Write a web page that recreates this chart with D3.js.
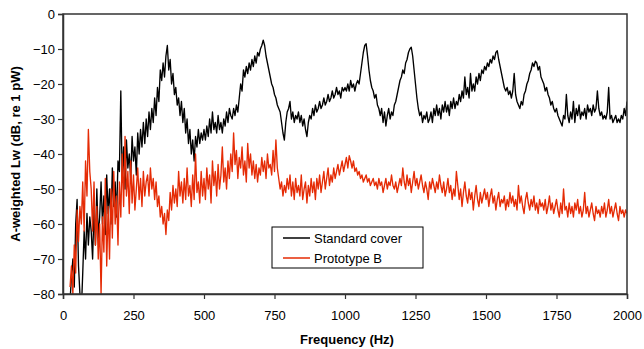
<!DOCTYPE html>
<html><head><meta charset="utf-8">
<script src="https://cdn.jsdelivr.net/npm/d3@7"></script>
<style>
body{margin:0;background:#fff;}
svg text{font-family:"Liberation Sans",Arial,sans-serif;fill:#000;}
</style></head>
<body><svg id="chart" width="644" height="349"></svg>
<script>
// Sampling grid (Hz) and series values (dB)
const freqHz = d3.range(0, 2001, 5);
const standardCover = [
null,null,null,null,null,-82,-75,-70,-78,-60,-53,-72,-80,-85,-74,-62,-70,-57,-66,-58,
-62,-70,-56,-66,-50,-64,-58,-48,-60,-52,-63,-46,-57,-50,-60,-44,-55,-48,-58,-42,
-45,-22,-48,-38,-50,-36,-44,-40,-47,-35,-42,-38,-46,-34,-40,-33,-38,-31,-37,-30,
-35,-28,-33,-27,-31,-24,-29,-21,-25,-16,-19,-14,-18,-12,-9,-16,-13,-20,-17,-23,
-21,-26,-24,-29,-25,-31,-27,-34,-30,-37,-33,-40,-36,-42,-35,-38,-33,-37,-34,-36,
-33,-36,-32,-35,-30,-34,-28,-33,-31,-34,-29,-33,-31,-34,-30,-32,-28,-31,-27,-29,
-30,-27,-29,-26,-28,-24,-20,-22,-16,-18,-15,-17,-14,-16,-13,-15,-12,-14,-11,-12,
-10,-9,-7.5,-9,-12,-14,-16,-18,-20,-21,-23,-24,-26,-27,-28,-31,-34,-36,-31,-28,
-27,-25,-30,-28,-31,-29,-30,-28,-31,-29,-32,-30,-33,-35,-31,-29,-30,-27,-29,-26,
-28,-27,-25,-27,-26,-24,-26,-25,-23,-25,-24,-22,-24,-23,-21,-23,-22,-24,-21,-22,
-21,-22,-20,-22,-19,-21,-20,-22,-20,-19,-20,-17,-14,-11,-9,-8.5,-12,-16,-19,-21,
-22,-24,-23,-26,-27,-29,-27,-31,-28,-32,-29,-27,-30,-28,-29,-26,-25,-23,-21,-19,
-18,-16,-17,-14,-13,-11,-10,-9.5,-12,-16,-20,-24,-27,-29,-28,-31,-29,-30,-28,-31,
-30,-28,-31,-27,-29,-26,-29,-27,-30,-26,-28,-25,-28,-26,-29,-25,-27,-24,-27,-25,
-26,-23,-25,-22,-24,-18,-23,-21,-24,-17,-22,-20,-22,-18,-20,-17,-19,-16,-17,-15,
-16,-14,-15,-13,-14,-12,-13,-11,-10.5,-13,-15,-17,-19,-21,-22,-21,-23,-22,-24,-22,
-17,-23,-25,-26,-27,-25,-26,-23,-22,-20,-19,-17,-16,-14,-15,-13.5,-14,-16,-15,-18,
-19,-20,-22,-21,-23,-24,-26,-25,-27,-28,-27,-29,-30,-31,-32,-29,-30,-23,-29,-31,
-28,-30,-25,-31,-27,-29,-26,-30,-28,-29,-27,-30,-26,-28,-27,-29,-26,-28,-27,-22,
-27,-29,-28,-30,-29,-30,-28,-21,-30,-29,-31,-30,-29,-31,-30,-31,-29,-30,-27,-29,
-25];
const prototypeB = [
null,null,null,null,null,-78,-72,-80,-66,-74,-56,-65,-55,-60,-48,-62,-42,-52,-33,-45,
-50,-62,-48,-66,-55,-70,-60,-80,-58,-68,-47,-72,-55,-70,-50,-64,-45,-60,-52,-66,
-48,-58,-40,-55,-35,-52,-45,-57,-42,-54,-46,-56,-50,-44,-53,-47,-55,-45,-52,-48,
-46,-52,-44,-50,-47,-53,-48,-55,-52,-58,-55,-60,-57,-63,-56,-59,-51,-56,-49,-54,
-50,-55,-45,-52,-48,-54,-47,-53,-44,-52,-49,-55,-46,-53,-40,-51,-48,-54,-45,-52,
-47,-53,-44,-50,-46,-54,-42,-49,-45,-52,-43,-50,-46,-38,-48,-44,-50,-42,-47,-40,
-45,-34,-43,-39,-47,-41,-44,-38,-46,-42,-48,-37,-44,-40,-46,-42,-47,-43,-48,-44,
-46,-41,-45,-42,-47,-40,-44,-43,-46,-39,-45,-36,-44,-47,-50,-48,-52,-49,-51,-47,
-50,-46,-52,-48,-53,-47,-51,-49,-52,-46,-53,-50,-48,-54,-49,-52,-47,-51,-48,-53,
-47,-50,-46,-51,-48,-45,-50,-47,-44,-49,-46,-48,-44,-47,-45,-43,-46,-44,-42,-45,
-43,-41,-44,-40.5,-42,-44,-42,-45,-44,-46,-45,-47,-46,-48,-47,-46,-48,-47,-49,-48,
-47,-49,-48,-50,-47,-49,-48,-51,-49,-47,-50,-48,-49,-46,-49,-50,-48,-51,-49,-47,
-49,-44,-48,-50,-46,-49,-47,-51,-48,-45,-49,-47,-50,-48,-46,-49,-51,-48,-50,-53,
-48,-50,-47,-49,-51,-48,-50,-46,-49,-51,-48,-52,-50,-47,-51,-49,-53,-50,-52,-45,
-49,-53,-50,-55,-51,-48,-52,-54,-50,-53,-51,-56,-52,-49,-53,-55,-51,-54,-52,-50,
-53,-51,-55,-52,-50,-54,-52,-56,-53,-51,-55,-53,-54,-52,-56,-53,-55,-51,-54,-52,
-55,-53,-56,-49,-54,-52,-55,-57,-53,-51,-54,-56,-53,-55,-52,-56,-54,-57,-53,-55,
-54,-56,-53,-57,-55,-52,-56,-54,-57,-55,-53,-56,-58,-54,-57,-50,-56,-55,-58,-54,
-57,-55,-58,-54,-56,-53,-57,-55,-58,-56,-51,-57,-55,-58,-56,-54,-57,-59,-55,-57,
-56,-58,-55,-57,-54,-58,-56,-53,-57,-55,-58,-56,-54,-57,-59,-55,-57,-56,-58,-56,
-57];
const xTicks = [0,250,500,750,1000,1250,1500,1750,2000];
const yTicks = [0,-10,-20,-30,-40,-50,-60,-70,-80];
const seriesNames = ["Standard cover","Prototype B"];
const seriesColors = ["#000000","#e52b05"];

const svg = d3.select("#chart");
const m = {left:63, right:17, top:14, bottom:55};
const W = 644, H = 349;
const x = d3.scaleLinear().domain([0,2000]).range([m.left, W-m.right]);
const y = d3.scaleLinear().domain([-80,0]).range([H-m.bottom, m.top]);

svg.append("defs").append("clipPath").attr("id","clip")
  .append("rect").attr("x",m.left).attr("y",m.top)
  .attr("width",W-m.left-m.right).attr("height",H-m.top-m.bottom);

const line = d3.line()
  .defined(d => d[1] !== null)
  .x(d => x(d[0])).y(d => y(d[1]));

[standardCover, prototypeB].forEach((vals,i) => {
  svg.append("path")
    .datum(freqHz.map((f,k)=>[f, vals[k]]))
    .attr("clip-path","url(#clip)")
    .attr("fill","none")
    .attr("stroke",seriesColors[i])
    .attr("stroke-width",1.35)
    .attr("stroke-linejoin","round")
    .attr("d",line);
});

// frame
svg.append("rect").attr("x",m.left).attr("y",m.top)
  .attr("width",W-m.left-m.right).attr("height",H-m.top-m.bottom)
  .attr("fill","none").attr("stroke","#333").attr("stroke-width",1.5);

const xAxis = svg.append("g").attr("transform",`translate(0,${H-m.bottom})`)
  .call(d3.axisBottom(x).tickValues(xTicks).tickSize(5).tickPadding(12).tickFormat(d3.format("d")));
const yAxis = svg.append("g").attr("transform",`translate(${m.left},0)`)
  .call(d3.axisLeft(y).tickValues(yTicks).tickSize(5).tickPadding(3).tickFormat(d3.format("d")));
[xAxis,yAxis].forEach(g=>{
  g.selectAll("path").attr("stroke","#333").attr("stroke-width",1.5);
  g.selectAll("line").attr("stroke","#333").attr("stroke-width",1.2);
  g.selectAll("text").attr("font-size",13).attr("fill","#000")
    .style("font-family","'Liberation Sans', Arial, sans-serif");
});

svg.append("text").attr("x",(m.left+W-m.right)/2+2).attr("y",344)
  .attr("text-anchor","middle").attr("font-size",13).attr("font-weight","bold")
  .text("Frequency (Hz)");
svg.append("text").attr("transform",`translate(20,${(m.top+H-m.bottom)/2}) rotate(-90)`)
  .attr("text-anchor","middle").attr("font-size",13).attr("font-weight","bold")
  .text("A-weighted Lw (dB, re 1 pW)");

// legend
const lg = svg.append("g");
lg.append("rect").attr("x",272).attr("y",227).attr("width",151).attr("height",41)
  .attr("fill","#fff").attr("stroke","#000").attr("stroke-width",1);
seriesNames.forEach((n,i)=>{
  const yy = 238 + i*20;
  lg.append("line").attr("x1",283).attr("x2",310).attr("y1",yy).attr("y2",yy)
    .attr("stroke",seriesColors[i]).attr("stroke-width",1.5);
  lg.append("text").attr("x",314).attr("y",yy+4.5).attr("font-size",13).text(n);
});
</script></body></html>
